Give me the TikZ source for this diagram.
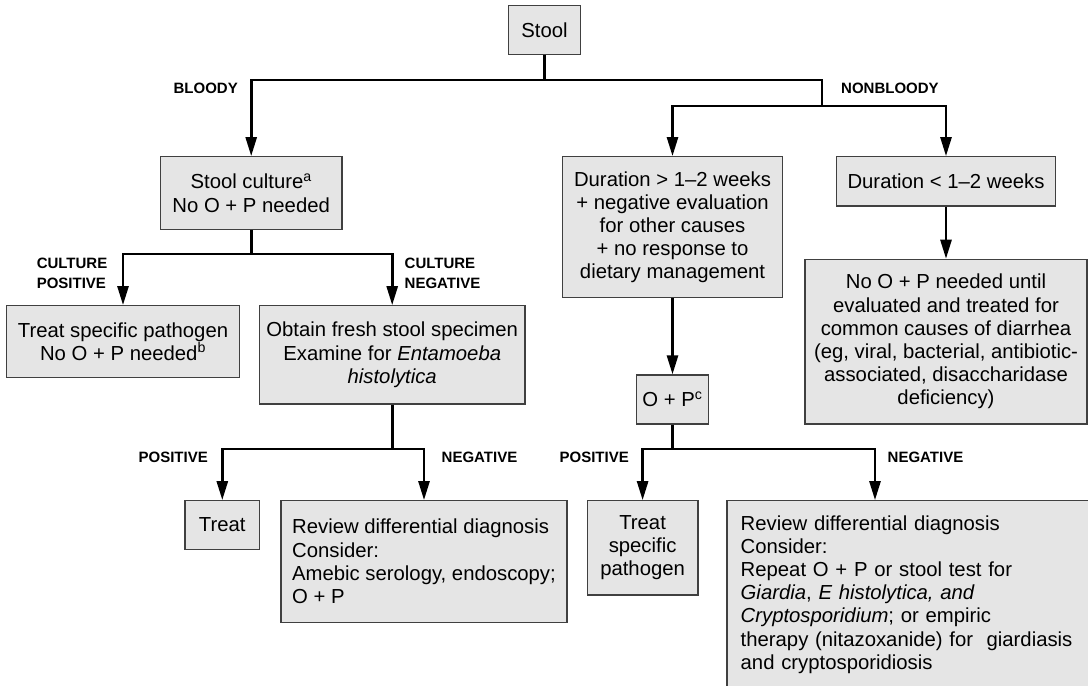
\documentclass[tikz,border=0pt]{standalone}
\usepackage{fontspec}
\setmainfont{Liberation Sans}
\usetikzlibrary{arrows.meta}

\begin{document}
\begin{tikzpicture}[x=1bp,y=-1bp,
  box/.style={draw=black!75,line width=1.2bp,fill=black!10,inner sep=0pt,align=center,
    font=\fontsize{20.3bp}{23.2bp}\selectfont},
  link/.style={line width=2.6bp},
  arrow/.style={link,-{Triangle[length=19bp,width=11bp]}},
  branch/.style={inner sep=0pt,align=left,font=\fontsize{15bp}{20bp}\selectfont\bfseries}]
  \useasboundingbox (0,0) rectangle (1088,686);

  % boxes
  \node[box,minimum width=71.6bp,minimum height=48.6bp] (stool) at (544.5,30) {Stool};
  \node[box,minimum width=181.7bp,minimum height=72.6bp] (culture) at (251.2,193)
    {Stool culture\textsuperscript{a}\\No O + P needed};
  \node[box,minimum width=220.6bp,minimum height=141bp] (longdur) at (672.5,227.2)
    {Duration > 1--2 weeks\\+ negative evaluation\\for other causes\\+ no response to\\dietary management};
  \node[box,minimum width=219.7bp,minimum height=49.3bp] (shortdur) at (946,181.4)
    {Duration < 1--2 weeks};
  \node[box,minimum width=282bp,minimum height=164.7bp] (nocause) at (946,341.7)
    {No O + P needed until\\evaluated and treated for\\common causes of diarrhea\\(eg, viral, bacterial, antibiotic-\\associated, disaccharidase\\deficiency)};
  \node[box,minimum width=232.6bp,minimum height=71.6bp] (treatpath) at (123,341.5)
    {Treat specific pathogen\\No O + P needed\textsuperscript{b}};
  \node[box,minimum width=265.7bp,minimum height=98.3bp] (freshspec) at (392.2,354.9)
    {Obtain fresh stool specimen\\Examine for \textit{Entamoeba}\\\textit{histolytica}};
  \node[box,minimum width=71.3bp,minimum height=49bp] (oandp) at (672.5,399.5)
    {O + P\textsuperscript{c}};
  \node[box,minimum width=74.7bp,minimum height=48.6bp] (treat) at (222.3,525) {Treat};
  \node[box,minimum width=286bp,minimum height=121.6bp,align=left] (reviewamebic) at (424,561.5)
    {Review differential diagnosis\\Consider:\\Amebic serology, endoscopy;\\O + P};
  \node[box,minimum width=110.8bp,minimum height=94.3bp] (treatspec) at (642.6,547.9)
    {Treat\\specific\\pathogen};
  \node[box,minimum width=363bp,minimum height=187.3bp,text width=335.6bp,align=left] (reviewgiardia) at (908.5,594.4)
    {Review differential diagnosis\\Consider:\\Repeat O + P or stool test for\\\textit{Giardia}, \textit{E histolytica, and}\\\textit{Cryptosporidium}; or empiric\\therapy (nitazoxanide) for \ giardiasis\\and cryptosporidiosis};

  % forks
  \coordinate (fork1) at (544.5,80);
  \coordinate (fork2) at (822,106);
  \coordinate (fork3) at (251.2,254);
  \coordinate (fork4) at (392.2,449);
  \coordinate (fork5) at (672.5,449);
  \coordinate (negx) at (875,0);

  % connectors
  \draw[link] (stool.south) -- (fork1);
  \draw[arrow] (fork1) -| (culture.north);
  \draw[link] (fork1) -| (fork2);
  \draw[arrow] (fork2) -| (longdur.north);
  \draw[arrow] (fork2) -| (shortdur.north);
  \draw[arrow] (shortdur.south) -- (nocause.north);
  \draw[arrow] (longdur.south) -- (oandp.north);
  \draw[link] (culture.south) -- (fork3);
  \draw[arrow] (fork3) -| (treatpath.north);
  \draw[arrow] (fork3) -| (freshspec.north);
  \draw[link] (freshspec.south) -- (fork4);
  \draw[arrow] (fork4) -| (treat.north);
  \draw[arrow] (fork4) -| (reviewamebic.north);
  \draw[link] (oandp.south) -- (fork5);
  \draw[arrow] (fork5) -| (treatspec.north);
  \draw[arrow] (fork5) -| (reviewgiardia.north -| negx);

  % branch labels
  \node[branch,anchor=east] (bloody) at (238,88) {BLOODY};
  \node[branch,anchor=west] (nonbloody) at (841,88) {NONBLOODY};
  \node[branch,anchor=east] (cultpos) at (107.5,273) {CULTURE\\POSITIVE};
  \node[branch,anchor=west] (cultneg) at (404.5,273) {CULTURE\\NEGATIVE};
  \node[branch,anchor=east] (ehpos) at (208,457) {POSITIVE};
  \node[branch,anchor=west] (ehneg) at (441.5,457) {NEGATIVE};
  \node[branch,anchor=east] (oppos) at (629,457) {POSITIVE};
  \node[branch,anchor=west] (opneg) at (887.5,457) {NEGATIVE};
\end{tikzpicture}
\end{document}
